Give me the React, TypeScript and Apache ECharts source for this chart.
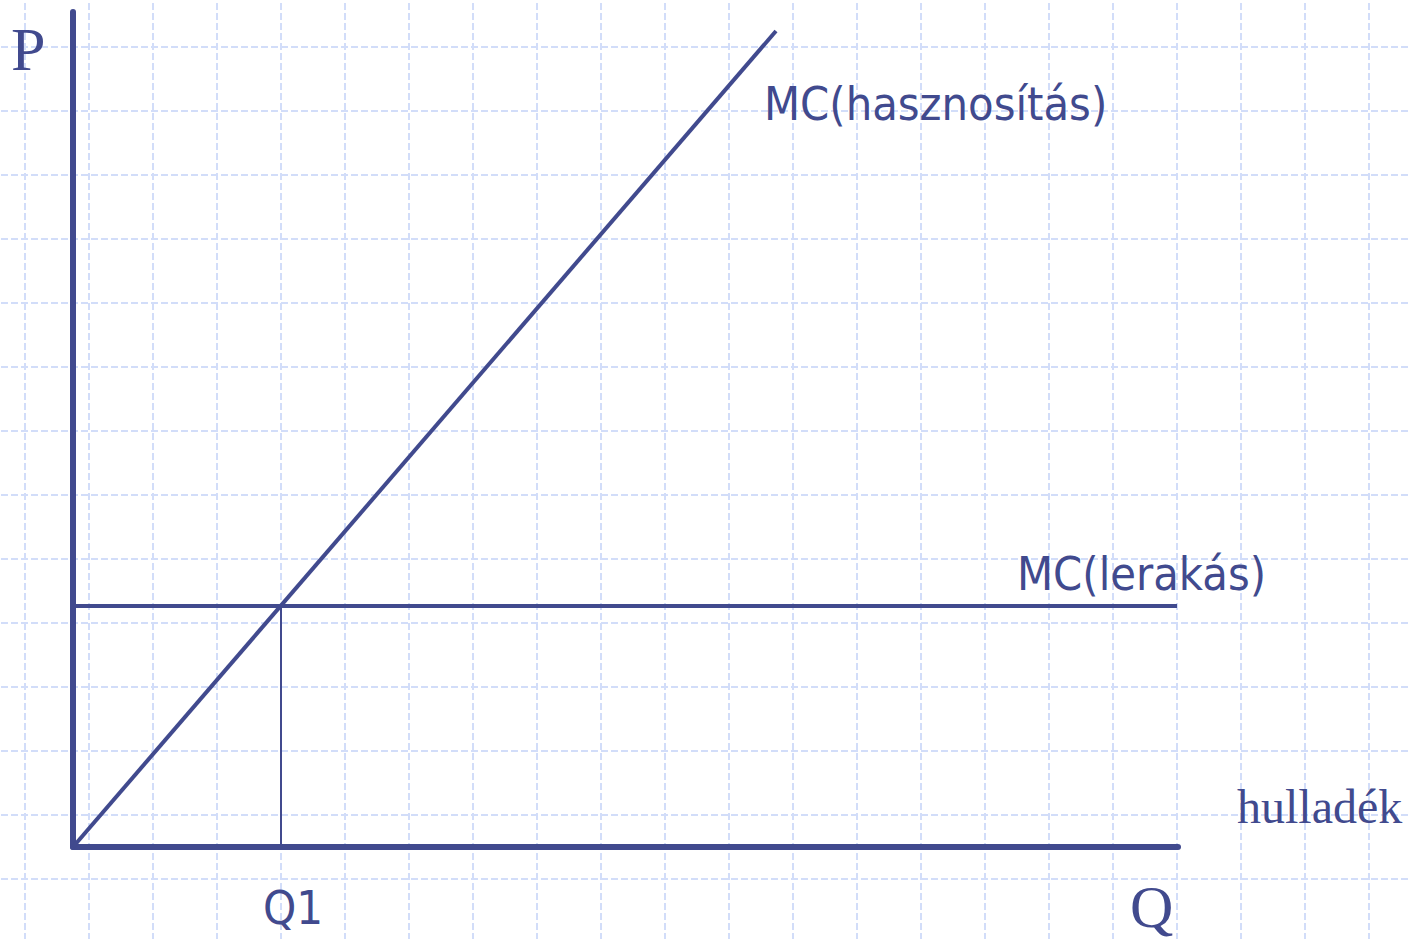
import React, { useEffect, useRef } from 'react';
import * as echarts from 'echarts';

const INK = '#414a8e';
const GRID_COLOR = '#d2ddf9';

// data (Q, P) in chart units
const hasznositasQ = [0, 7.03];
const hasznositasP = [0, 8.16];
const lerakasQ = [0, 11.04];
const lerakasP = [2.41, 2.41];
const q1Q = [2.08, 2.08];
const q1P = [0, 2.41];
const xTickValues = [2.08];
const xTickLabels = ['Q1'];
const curveNames = ['MC(hasznosítás)', 'MC(lerakás)'];
const axisNames = ['P', 'Q', 'hulladék'];

const pairs = (xs: number[], ys: number[]) => xs.map((x, i) => [x, ys[i]]);

const SANS = '"DejaVu Sans Condensed", "DejaVu Sans", sans-serif';
const SERIF = '"Liberation Serif", "Times New Roman", serif';

export default function App() {
  const ref = useRef<HTMLDivElement>(null);
  useEffect(() => {
    if (!ref.current) return;
    const chart = echarts.init(ref.current, null, { renderer: 'svg' });
    const lineSeries = (name: string, data: number[][], width: number) => ({
      type: 'line',
      name,
      xAxisIndex: 0,
      yAxisIndex: 0,
      data,
      symbol: 'none',
      silent: true,
      z: 5,
      lineStyle: { color: INK, width, cap: 'butt' },
    });
    const bgSplit = () => ({
      show: true,
      lineStyle: { color: GRID_COLOR, type: [7, 3], width: 2, opacity: 1 },
    });
    chart.setOption({
      animation: false,
      backgroundColor: '#ffffff',
      grid: [
        { left: 73, top: 12, width: 1105, height: 835, outerBoundsMode: 'none', containLabel: false },
        { left: -39, top: -17, width: 1472, height: 1024, outerBoundsMode: 'none', containLabel: false },
      ],
      xAxis: [
        {
          gridIndex: 0,
          type: 'value',
          min: 0,
          max: 11.05,
          axisLine: { show: true, onZero: false, lineStyle: { color: INK, width: 6 } },
          axisTick: { show: false },
          splitLine: { show: false },
          axisLabel: {
            show: true,
            customValues: xTickValues,
            formatter: (v: number) => {
              const i = xTickValues.findIndex((t) => Math.abs(t - v) < 1e-6);
              return i >= 0 ? xTickLabels[i] : '';
            },
            color: INK,
            fontFamily: SANS,
            fontSize: 47,
            margin: 37,
            padding: [0, 0, 0, 24],
          },
          z: 4,
        },
        {
          gridIndex: 1,
          type: 'value',
          min: 0,
          max: 23,
          interval: 1,
          axisLine: { show: false },
          axisTick: { show: false },
          axisLabel: { show: false },
          splitLine: bgSplit(),
          z: 0,
        },
      ],
      yAxis: [
        {
          gridIndex: 0,
          type: 'value',
          min: 0,
          max: 8.35,
          axisLine: { show: true, onZero: false, lineStyle: { color: INK, width: 6 } },
          axisTick: { show: false },
          splitLine: { show: false },
          axisLabel: { show: false },
          z: 4,
        },
        {
          gridIndex: 1,
          type: 'value',
          min: 0,
          max: 16,
          interval: 1,
          axisLine: { show: false },
          axisTick: { show: false },
          axisLabel: { show: false },
          splitLine: bgSplit(),
          z: 0,
        },
      ],
      series: [
        lineSeries(curveNames[0], pairs(hasznositasQ, hasznositasP), 4),
        lineSeries(curveNames[1], pairs(lerakasQ, lerakasP), 4),
        lineSeries('Q1', pairs(q1Q, q1P), 2),
      ],
    });

    const px = (x: number, y: number) =>
      chart.convertToPixel({ xAxisIndex: 0, yAxisIndex: 0 }, [x, y]) as number[];
    const diagEnd = px(hasznositasQ[1], hasznositasP[1]);
    const lerEnd = px(lerakasQ[1], lerakasP[1]);
    const yTop = px(0, 8.35);
    const xEnd = px(11.05, 0);

    const txt = (text: string, x: number, y: number, font: string, size: number) => ({
      type: 'text',
      x,
      y,
      z: 10,
      silent: true,
      style: {
        text,
        fill: INK,
        fontFamily: font,
        fontSize: size,
        textAlign: 'left',
        textVerticalAlign: 'middle',
      },
    });

    chart.setOption({
      graphic: [
        txt(axisNames[0], yTop[0] - 62, yTop[1] + 37, SERIF, 62),
        txt(axisNames[1], xEnd[0] - 48, xEnd[1] + 60, SERIF, 60),
        txt(axisNames[2], xEnd[0] + 59, xEnd[1] - 41, SERIF, 48),
        txt(curveNames[0], diagEnd[0] - 12, diagEnd[1] + 73, SANS, 46.5),
        txt(curveNames[1], lerEnd[0] - 160, lerEnd[1] - 32, SANS, 46.5),
      ],
    });

    return () => chart.dispose();
  }, []);
  return (
    <div
      ref={ref}
      style={{ position: 'fixed', left: 0, top: 0, width: 1410, height: 939, background: '#fff' }}
    />
  );
}
